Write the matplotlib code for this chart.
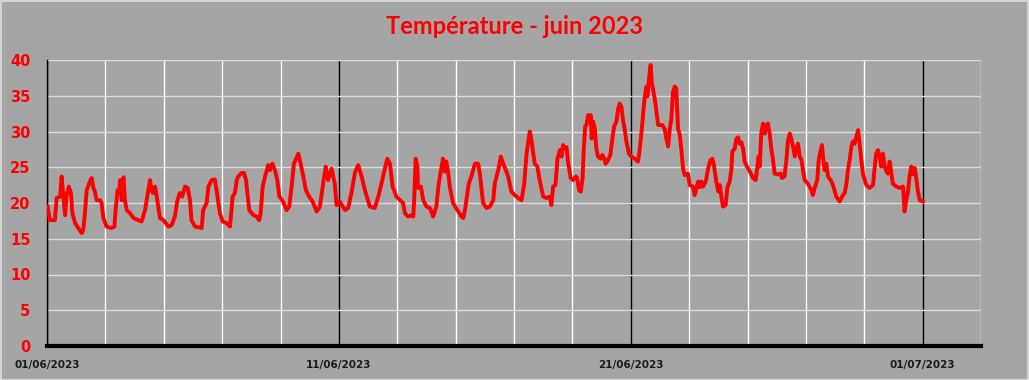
import matplotlib
matplotlib.use("Agg")
import matplotlib.pyplot as plt
from matplotlib.patches import Rectangle

# temps en jours depuis le 01/06/2023 00:00
jours = [
    0.02, 0.10, 0.27, 0.33, 0.45, 0.50, 0.56, 0.62, 0.67, 0.75, 0.82, 0.87, 0.96,
    1.07, 1.19, 1.24, 1.30, 1.36, 1.47, 1.53, 1.59, 1.64, 1.70, 1.82, 1.87, 1.93,
    2.04, 2.21, 2.31, 2.35, 2.42, 2.47, 2.51, 2.56, 2.62, 2.67, 2.73, 2.84, 2.96,
    3.13, 3.24, 3.36, 3.47, 3.53, 3.58, 3.64, 3.70, 3.76, 3.87, 3.99,
    4.16, 4.27, 4.38, 4.47, 4.55, 4.63, 4.73, 4.82, 4.90, 4.95,
    5.07, 5.30, 5.35, 5.47, 5.53, 5.64, 5.75, 5.81, 5.92,
    6.02, 6.15, 6.27, 6.36, 6.44, 6.50, 6.55, 6.67, 6.75, 6.82, 6.86, 6.93,
    7.07, 7.18, 7.27, 7.32, 7.39, 7.47, 7.58, 7.64, 7.72, 7.81, 7.89, 7.96,
    8.09, 8.21, 8.30, 8.38, 8.46, 8.61, 8.69, 8.78, 8.87, 8.98,
    9.10, 9.24, 9.35, 9.46, 9.55, 9.63, 9.75, 9.86, 9.92,
    10.03, 10.21, 10.32, 10.43, 10.55, 10.66, 10.78, 10.89,
    11.06, 11.23, 11.35, 11.46, 11.54, 11.66, 11.75, 11.84, 11.97,
    12.09, 12.20, 12.26, 12.37, 12.49, 12.55, 12.58, 12.63, 12.69, 12.71, 12.81, 12.89,
    13.00, 13.12, 13.23, 13.34, 13.42, 13.52, 13.57, 13.63, 13.68, 13.74, 13.80, 13.91,
    14.09, 14.20, 14.26, 14.32, 14.37, 14.45, 14.54, 14.66, 14.77, 14.83, 14.94,
    15.06, 15.17, 15.29, 15.34, 15.46, 15.55, 15.63, 15.72, 15.80, 15.91,
    16.03, 16.14, 16.26, 16.35, 16.43, 16.48, 16.54, 16.60, 16.66, 16.71, 16.80, 16.88,
    17.00, 17.11, 17.23, 17.28, 17.34, 17.42, 17.49, 17.57, 17.63, 17.68, 17.74, 17.80, 17.85, 17.94,
    18.02, 18.12, 18.16, 18.23, 18.29, 18.35, 18.39, 18.44, 18.48, 18.54, 18.60, 18.63, 18.66,
    18.71, 18.77, 18.82, 18.88, 18.96,
    19.03, 19.09, 19.14, 19.22, 19.30, 19.37, 19.43, 19.51, 19.57, 19.62, 19.68, 19.74, 19.79,
    19.85, 19.94,
    20.02, 20.14, 20.19, 20.25, 20.31, 20.37, 20.42, 20.48, 20.54, 20.57, 20.62, 20.65, 20.68,
    20.73, 20.76, 20.82, 20.88, 20.94,
    21.02, 21.08, 21.16, 21.22, 21.28, 21.34, 21.39, 21.45, 21.51, 21.56, 21.62, 21.68, 21.74,
    21.79, 21.85, 21.96,
    22.02, 22.13, 22.19, 22.31, 22.36, 22.42, 22.48, 22.57, 22.65, 22.73, 22.80, 22.85, 22.93,
    23.00, 23.05, 23.11, 23.16, 23.25, 23.31, 23.39, 23.45, 23.48, 23.56, 23.62, 23.68, 23.73,
    23.79, 23.85, 23.90, 23.98,
    24.08, 24.19, 24.28, 24.34, 24.38, 24.42, 24.47, 24.53, 24.59, 24.65, 24.70, 24.76, 24.82,
    24.87, 24.93,
    25.05, 25.14, 25.18, 25.27, 25.33, 25.39, 25.45, 25.50, 25.56, 25.62, 25.67, 25.73, 25.79,
    25.85, 25.90, 25.96,
    26.07, 26.19, 26.24, 26.30, 26.39, 26.44, 26.48, 26.55, 26.60, 26.64, 26.70, 26.76, 26.85, 26.93,
    27.04, 27.16, 27.24, 27.33, 27.39, 27.44, 27.50, 27.56, 27.61, 27.67, 27.73, 27.79, 27.84,
    27.90, 27.96,
    28.07, 28.18, 28.30, 28.36, 28.41, 28.47, 28.53, 28.58, 28.64, 28.70, 28.76, 28.81, 28.87,
    28.93, 28.98,
    29.10, 29.21, 29.33, 29.38, 29.44, 29.50, 29.55, 29.61, 29.67, 29.73, 29.78, 29.84, 29.90,
    30.01,
]
temperature = [
    19.5, 17.6, 17.6, 20.7, 20.9, 23.7, 20.9, 18.3, 21.1, 22.3, 21.4, 18.6, 17.2,
    16.5, 15.8, 16.2, 18.6, 21.8, 23.0, 23.5, 22.1, 21.6, 20.4, 20.4, 20.0, 17.9,
    16.7, 16.5, 16.7, 19.0, 21.8, 21.6, 23.2, 20.4, 23.6, 20.4, 19.0, 18.6, 17.9,
    17.6, 17.4, 19.0, 21.8, 23.2, 21.8, 21.4, 22.3, 20.9, 17.9, 17.6,
    16.7, 16.9, 18.1, 20.4, 21.4, 20.9, 22.3, 22.1, 20.4, 17.6,
    16.7, 16.5, 19.0, 20.0, 22.3, 23.2, 23.3, 21.8, 18.6,
    17.4, 17.2, 16.7, 20.9, 21.4, 23.2, 23.7, 24.2, 24.2, 23.2, 21.6, 19.0,
    18.3, 18.1, 17.6, 18.6, 22.3, 23.7, 25.3, 24.6, 25.5, 24.6, 23.2, 20.9,
    20.2, 19.0, 19.5, 22.3, 25.5, 26.9, 25.5, 23.7, 21.8, 20.9,
    20.2, 18.8, 19.5, 22.7, 25.1, 23.2, 24.8, 22.7, 19.7,
    20.2, 19.0, 19.3, 21.4, 24.2, 25.3, 23.7, 21.8,
    19.5, 19.3, 20.9, 22.7, 24.2, 26.2, 25.5, 22.3, 20.9,
    20.4, 20.0, 18.6, 18.1, 18.3, 18.1, 20.4, 26.2, 25.1, 22.1, 22.3, 20.4,
    19.5, 19.3, 18.1, 19.5, 22.7, 25.1, 26.2, 24.4, 25.8, 24.4, 22.3, 20.0,
    18.8, 18.1, 17.9, 19.0, 20.4, 22.7, 23.7, 25.5, 25.5, 24.1, 20.0,
    19.3, 19.5, 20.4, 22.7, 24.6, 26.5, 25.5, 24.6, 23.7, 21.6,
    21.1, 20.7, 20.4, 22.7, 26.9, 28.3, 30.0, 28.8, 26.9, 25.5, 25.1, 23.2,
    20.9, 20.7, 20.9, 19.7, 22.3, 22.5, 26.2, 27.4, 26.5, 28.1, 27.6, 27.8, 25.8, 23.5,
    23.2, 23.7, 23.5, 21.8, 21.6, 23.5, 27.6, 30.7, 30.9, 32.3, 31.4, 32.3, 29.0,
    31.4, 30.4, 27.6, 26.5, 26.2,
    26.7, 26.2, 25.5, 26.0, 26.7, 29.0, 30.7, 31.4, 33.2, 33.9, 33.5, 31.4, 30.4,
    28.6, 26.9,
    26.5, 26.2, 26.0, 25.8, 27.6, 30.0, 32.3, 34.9, 36.3, 34.9, 37.0, 38.4, 39.3,
    36.5, 36.0, 34.6, 32.8, 30.9,
    30.9, 30.9, 30.4, 29.0, 27.9, 30.4, 31.8, 35.6, 36.3, 36.0, 30.4, 29.5, 27.2,
    24.8, 23.9, 24.1,
    22.5, 22.3, 21.1, 23.0, 22.2, 23.0, 22.3, 23.0, 24.8, 26.0, 26.2, 25.3, 23.0,
    21.6, 22.5, 20.7, 19.5, 19.7, 22.2, 23.0, 24.8, 27.2, 27.6, 29.0, 29.2, 28.3,
    28.5, 27.6, 25.8, 25.1,
    24.4, 23.5, 23.2, 25.1, 26.5, 25.1, 29.7, 31.1, 29.7, 30.9, 31.1, 29.7, 27.4,
    26.2, 24.1,
    24.0, 24.1, 23.5, 23.7, 26.0, 28.8, 29.7, 29.0, 27.9, 26.5, 27.6, 28.3, 26.5,
    26.0, 24.6, 23.2,
    22.7, 21.8, 21.1, 22.1, 23.2, 26.0, 26.9, 28.1, 26.0, 24.6, 25.5, 23.7, 23.2, 22.5,
    20.9, 20.2, 20.9, 21.4, 22.7, 24.6, 26.0, 27.9, 28.6, 28.3, 29.3, 30.2, 28.3,
    26.0, 24.0,
    22.5, 22.1, 22.5, 25.1, 26.9, 27.4, 26.5, 25.1, 26.9, 25.1, 24.4, 24.1, 25.8,
    24.1, 22.7,
    22.3, 22.1, 22.3, 18.8, 20.4, 21.6, 23.7, 25.1, 24.0, 24.9, 23.5, 21.6, 20.4,
    20.2,
]

date_ticks = [0, 10, 20, 30]
date_labels = ["01/06/2023", "11/06/2023", "21/06/2023", "01/07/2023"]
minor_ticks = [2, 4, 6, 8, 12, 14, 16, 18, 22, 24, 26, 28, 32]
y_ticks = [0, 5, 10, 15, 20, 25, 30, 35, 40]

bg = "#a5a5a5"
fig = plt.figure(figsize=(10.29, 3.80), dpi=100, facecolor=bg)
ax = fig.add_axes([47 / 1029, 34 / 380, 934 / 1029, 286 / 380])
ax.set_facecolor(bg)

ax.plot(jours, temperature, color="#ff0000", linewidth=2.8, solid_joinstyle="round", zorder=3)

ax.set_xlim(0, 32)
ax.set_ylim(0, 40)
ax.set_xticks(date_ticks)
ax.set_xticklabels(date_labels)
ax.set_xticks(minor_ticks, minor=True)
ax.set_yticks(y_ticks)

ax.set_axisbelow(True)
ax.grid(axis="y", which="major", color="#d9d9d9", linewidth=1)
ax.grid(axis="x", which="minor", color="white", linewidth=1)
ax.grid(axis="x", which="major", color="black", linewidth=1)

for s in ["top", "right"]:
    ax.spines[s].set_visible(False)
ax.spines["left"].set_color("black")
ax.spines["left"].set_linewidth(1)
ax.spines["bottom"].set_color("black")
ax.spines["bottom"].set_linewidth(3)

ax.tick_params(axis="both", which="both", length=0)
ax.tick_params(axis="x", pad=10, labelsize=7.5, labelcolor="#1a1a1a")
ax.tick_params(axis="y", pad=12, labelsize=10.5, labelcolor="#ff0000")
for lab in ax.get_xticklabels() + ax.get_yticklabels():
    lab.set_fontweight("bold")

fig.text(0.5, 1 - 27 / 380, "Température - juin 2023", ha="center", va="center",
         color="#ff0000", fontsize=17, fontweight="bold", family="Lato")

fig.patches.append(Rectangle((0.0005, 0.001), 0.999, 0.997, transform=fig.transFigure,
                             fill=False, edgecolor="#d4d4d4", linewidth=1.5))

fig.savefig("out.png", dpi=100, facecolor=bg)
